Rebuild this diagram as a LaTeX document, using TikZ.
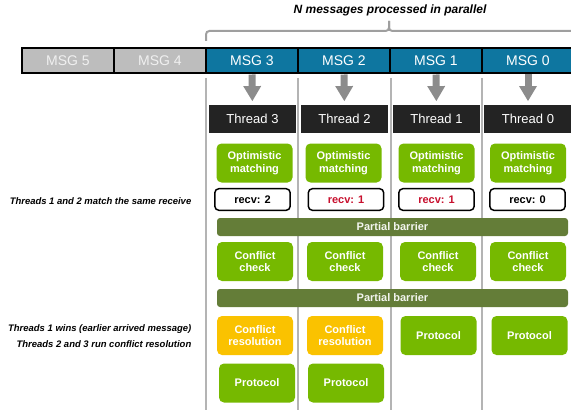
\documentclass[tikz,border=0pt]{standalone}
\usepackage{fontspec}
\setmainfont{Liberation Sans}
\usetikzlibrary{arrows.meta}
\definecolor{nvgreen}{HTML}{76B900}
\definecolor{nvyellow}{HTML}{FAC200}
\definecolor{nvolive}{HTML}{647D38}
\definecolor{nvblue}{HTML}{0E76A0}
\definecolor{msggray}{HTML}{BDBDBD}
\definecolor{threadblack}{HTML}{232323}
\definecolor{arrowgray}{HTML}{8C8C8C}
\definecolor{sepgray}{HTML}{B4B4B4}
\definecolor{recvred}{HTML}{C8102E}
\begin{document}
\begin{tikzpicture}[x=0.75pt,y=-0.75pt,
    msg node/.style={draw=black,line width=1.5pt,fill=nvblue,text=white,minimum width=69pt,minimum height=18.75pt,inner sep=0pt,font=\fontsize{10.5}{12}\selectfont},
    old msg/.style={msg node,fill=msggray,text=white!88!gray},
    thread node/.style={fill=threadblack,text=white,minimum width=65.5pt,minimum height=20.5pt,inner sep=0pt,font=\fontsize{9.75}{11}\selectfont},
    step node/.style={fill=nvgreen,text=white,rounded corners=3.75pt,minimum width=57pt,minimum height=29.25pt,inner sep=0pt,align=center,font=\fontsize{8.25}{9.3}\selectfont\bfseries},
    resolve node/.style={step node,fill=nvyellow},
    recv node/.style={draw=black,line width=1.1pt,fill=white,rounded corners=3pt,minimum width=56.5pt,minimum height=16.2pt,inner sep=0pt,font=\fontsize{8.25}{9.3}\selectfont\bfseries},
    barrier node/.style={fill=nvolive,text=white!92!nvolive,rounded corners=2.25pt,minimum width=263.25pt,minimum height=13.5pt,inner sep=0pt,font=\fontsize{8.25}{9.3}\selectfont\bfseries},
    note node/.style={anchor=east,align=right,font=\fontsize{7.1}{12}\selectfont\bfseries\itshape},
    flow/.style={color=arrowgray,line width=5.25pt,-{Triangle[width=13.5pt,length=11.25pt,line width=0pt,color=arrowgray,fill=arrowgray]},shorten >=3pt},
    lane/.style={draw=sepgray,line width=0.9pt},
    bracket/.style={draw=gray!75,line width=1.5pt,rounded corners=2.5pt}]
    \useasboundingbox (0,0) rectangle (571,410);

    % thread lanes
    \foreach \x in {206,298,391,482}
        \draw[lane] (\x,78) -- (\x,410);

    \node[font=\fontsize{9}{11}\selectfont\bfseries\itshape] at (390, 10) (title) {N messages processed in parallel};
    \draw[bracket] (206,41) |- (389,31) -- (389,21);
    \draw[bracket] (389,21) -- (389,31) -| (600,41);

    % message queue
    \node[old msg] at (68, 61) (m5) {MSG 5};
    \node[old msg] at (160, 61) (m4) {MSG 4};
    \node[msg node] at (252, 61) (m3) {MSG 3};
    \node[msg node] at (344, 61) (m2) {MSG 2};
    \node[msg node] at (436, 61) (m1) {MSG 1};
    \node[msg node] at (528, 61) (m0) {MSG 0};

    \node[thread node] at (252.5, 119) (t3) {Thread 3};
    \node[thread node] at (344.5, 119) (t2) {Thread 2};
    \node[thread node] at (436.5, 119) (t1) {Thread 1};
    \node[thread node] at (528, 119) (t0) {Thread 0};

    \path[flow] (m3) edge (t3);
    \path[flow] (m2) edge (t2);
    \path[flow] (m1) edge (t1);
    \path[flow] (m0) edge (t0);

    \node[step node] at (254.5, 163) (o3) {Optimistic\\matching};
    \node[step node] at (343.5, 163) (o2) {Optimistic\\matching};
    \node[step node] at (436.5, 163) (o1) {Optimistic\\matching};
    \node[step node] at (528, 163) (o0) {Optimistic\\matching};

    \node[recv node] at (252.5, 199.5) (r3) {recv: 2};
    \node[recv node,text=recvred] at (346, 199.5) (r2) {recv: 1};
    \node[recv node,text=recvred] at (436.5, 199.5) (r1) {recv: 1};
    \node[recv node] at (527.5, 199.5) (r0) {recv: 0};

    \node[barrier node] at (392.5, 227) (b1) {Partial barrier};

    \node[step node] at (255, 261.5) (c3) {Conflict\\check};
    \node[step node] at (345, 261.5) (c2) {Conflict\\check};
    \node[step node] at (438, 261.5) (c1) {Conflict\\check};
    \node[step node] at (528, 261.5) (c0) {Conflict\\check};

    \node[barrier node] at (392.5, 298) (b2) {Partial barrier};

    \node[resolve node] at (255, 335.5) (s3) {Conflict\\resolution};
    \node[resolve node] at (345, 335.5) (s2) {Conflict\\resolution};
    \node[step node] at (438.5, 335.5) (p1) {Protocol};
    \node[step node] at (529.5, 335.5) (p0) {Protocol};

    \node[step node] at (257, 383) (p3) {Protocol};
    \node[step node] at (346, 383) (p2) {Protocol};

    % side notes
    \node[note node] at (196, 201) (n1) {Threads 1 and 2 match the same receive};
    \node[note node] at (196, 336) (n2) {Threads 1 wins (earlier arrived message)\\Threads 2 and 3 run conflict resolution};
\end{tikzpicture}
\end{document}
